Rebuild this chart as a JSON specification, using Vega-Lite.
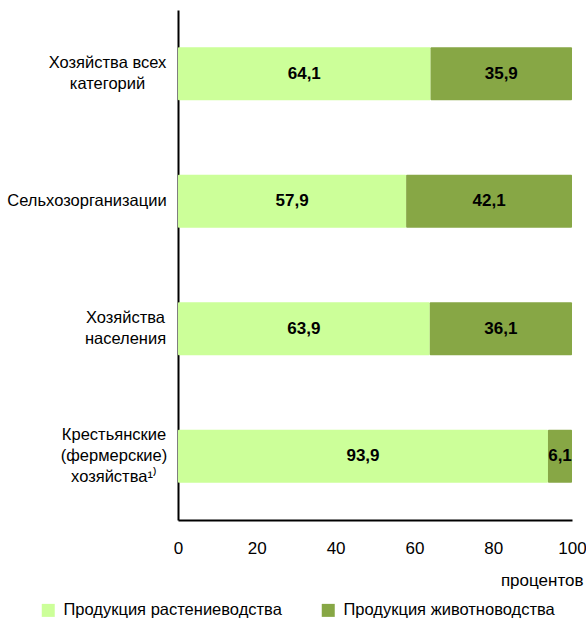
{
  "$schema": "https://vega.github.io/schema/vega-lite/v6.json",
  "width": 394,
  "height": 510,
  "autosize": "none",
  "padding": {"left": 178, "top": 10, "right": 14, "bottom": 99},
  "config": {
    "font": "Liberation Sans",
    "view": {"stroke": null},
    "locale": {"number": {"decimal": ",", "thousands": " ", "grouping": [3], "currency": ["", ""]}}
  },
  "data": {
    "values": [
      {"cat": "Хозяйства всех|категорий", "type": "Продукция растениеводства", "ord": 1, "value": 64.1},
      {"cat": "Хозяйства всех|категорий", "type": "Продукция животноводства", "ord": 2, "value": 35.9},
      {"cat": "Сельхозорганизации", "type": "Продукция растениеводства", "ord": 1, "value": 57.9},
      {"cat": "Сельхозорганизации", "type": "Продукция животноводства", "ord": 2, "value": 42.1},
      {"cat": "Хозяйства|населения", "type": "Продукция растениеводства", "ord": 1, "value": 63.9},
      {"cat": "Хозяйства|населения", "type": "Продукция животноводства", "ord": 2, "value": 36.1},
      {"cat": "Крестьянские|(фермерские)|хозяйства¹⁾", "type": "Продукция растениеводства", "ord": 1, "value": 93.9},
      {"cat": "Крестьянские|(фермерские)|хозяйства¹⁾", "type": "Продукция животноводства", "ord": 2, "value": 6.1}
    ]
  },
  "transform": [
    {"stack": "value", "groupby": ["cat"], "sort": [{"field": "ord"}], "as": ["x0", "x1"]},
    {"calculate": "(datum.x0 + datum.x1) / 2", "as": "xmid"}
  ],
  "encoding": {
    "y": {
      "field": "cat",
      "type": "nominal",
      "sort": ["Хозяйства всех|категорий", "Сельхозорганизации", "Хозяйства|населения", "Крестьянские|(фермерские)|хозяйства¹⁾"],
      "scale": {"paddingInner": 0.586, "paddingOuter": 0.293},
      "axis": {
        "title": null,
        "domainColor": "black",
        "domainWidth": 2,
        "ticks": false,
        "labelAlign": "center",
        "labelFontSize": 16.5,
        "labelColor": "black",
        "labelLineHeight": 21,
        "labelLimit": 200,
        "labelExpr": "split(datum.label, '|')",
        "labelPadding": {
          "condition": [
            {"test": "datum.value == 'Хозяйства всех|категорий'", "value": 71},
            {"test": "datum.value == 'Сельхозорганизации'", "value": 91.5},
            {"test": "datum.value == 'Хозяйства|населения'", "value": 53}
          ],
          "value": 64.5
        },
        "labelOffset": {
          "condition": [
            {"test": "length(split(datum.value, '|')) == 3", "value": -21},
            {"test": "length(split(datum.value, '|')) == 2", "value": -10.5}
          ],
          "value": 0
        }
      }
    }
  },
  "layer": [
    {
      "mark": {"type": "bar", "cornerRadius": 1},
      "encoding": {
        "x": {
          "field": "x0",
          "type": "quantitative",
          "scale": {"domain": [0, 100]},
          "axis": {
            "title": "процентов",
            "values": [0, 20, 40, 60, 80, 100],
            "grid": false,
            "ticks": false,
            "domainColor": "black",
            "domainWidth": 2,
            "labelFontSize": 17,
            "labelPadding": 20,
            "labelFlush": false,
            "labelColor": "black",
            "titleFontSize": 17,
            "titleFontWeight": "normal",
            "titleColor": "black",
            "titleAnchor": "end",
            "titleAlign": "right",
            "titleBaseline": "alphabetic",
            "titleX": 405,
            "titleY": 65
          }
        },
        "x2": {"field": "x1"},
        "color": {
          "field": "type",
          "type": "nominal",
          "sort": ["Продукция растениеводства", "Продукция животноводства"],
          "scale": {"domain": ["Продукция растениеводства", "Продукция животноводства"], "range": ["#CCFF99", "#87A745"]},
          "legend": {
            "orient": "none",
            "legendX": -138,
            "legendY": 592,
            "direction": "horizontal",
            "title": null,
            "symbolType": "square",
            "symbolSize": 169,
            "symbolStrokeWidth": 0,
            "labelFontSize": 16.5,
            "labelOffset": 7,
            "labelColor": "black",
            "columnPadding": 38,
            "labelLimit": 300
          }
        }
      }
    },
    {
      "mark": {"type": "text", "fontWeight": "bold", "fontSize": 17, "color": "black"},
      "encoding": {
        "x": {"field": "xmid", "type": "quantitative"},
        "text": {"field": "value", "type": "quantitative", "format": ".1f"}
      }
    }
  ]
}
